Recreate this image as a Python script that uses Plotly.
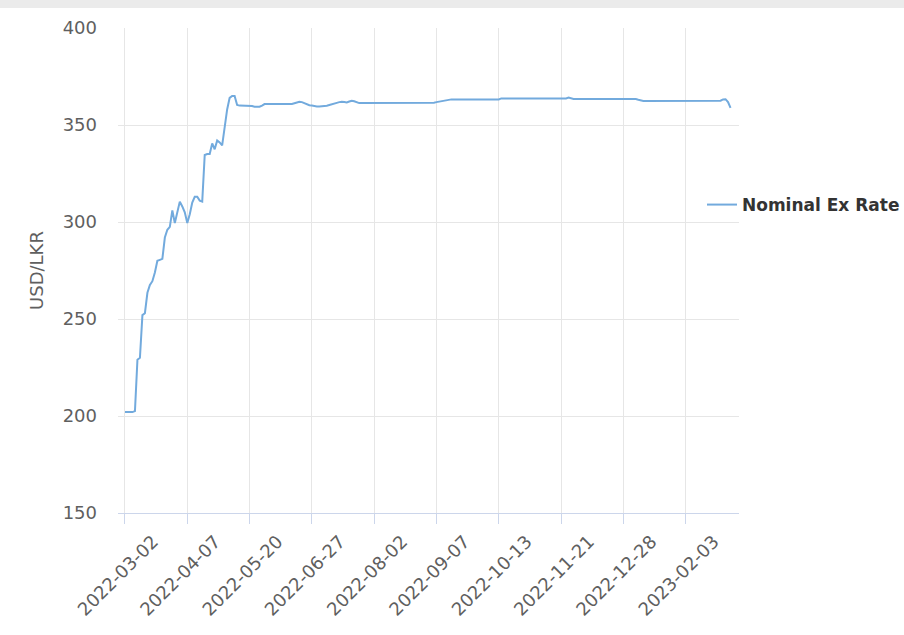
import numpy as np
import pandas as pd
import plotly.graph_objects as go

# Category tick labels (every 25th trading day)
tick_dates = ["2022-03-02", "2022-04-07", "2022-05-20", "2022-06-27", "2022-08-02",
              "2022-09-07", "2022-10-13", "2022-11-21", "2022-12-28", "2023-02-03"]
points_per_tick = 25
tail_points = 19

dates = []
for a, b in zip(tick_dates[:-1], tick_dates[1:]):
    days = pd.bdate_range(a, b, inclusive="left")
    pick = np.linspace(0, len(days) - 1, points_per_tick).round().astype(int)
    dates += [d.strftime("%Y-%m-%d") for d in days[pick]]
dates += [d.strftime("%Y-%m-%d") for d in pd.bdate_range(tick_dates[-1], periods=tail_points)]

# USD/LKR nominal exchange rate
rates = [
    202.0, 202.0, 202.0, 202.0, 202.5, 229.0, 230.0, 252.0, 253.0, 263.5,
    267.5, 269.5, 274.0, 280.0, 280.5, 281.0, 292.0, 296.0, 297.5, 306.0,
    299.5, 305.0, 310.5, 308.0, 305.0, 299.5, 304.0, 310.0, 313.0, 313.0,
    311.0, 310.5, 334.5, 335.0, 335.0, 340.5, 337.5, 342.0, 341.0, 339.5,
    349.0, 358.0, 364.0, 365.0, 365.0, 360.3, 360.0, 360.0, 360.0, 360.0,
    360.0, 359.8, 359.4, 359.3, 359.4, 360.0, 360.8, 360.8, 360.8, 360.8,
    360.8, 360.8, 360.8, 360.8, 360.8, 360.8, 360.8, 360.8, 361.2, 361.7,
    362.0, 361.8, 361.2, 360.6, 360.2, 360.0, 359.7, 359.6, 359.6, 359.6,
    359.7, 359.9, 360.3, 360.8, 361.2, 361.4, 361.8, 362.0, 361.8, 361.6,
    362.1, 362.5, 362.2, 361.6, 361.3, 361.3, 361.3, 361.3, 361.3, 361.3,
    361.5, 361.5, 361.5, 361.5, 361.5, 361.5, 361.5, 361.5, 361.5, 361.5,
    361.5, 361.5, 361.5, 361.5, 361.5, 361.5, 361.5, 361.5, 361.5, 361.5,
    361.5, 361.5, 361.5, 361.5, 361.5, 361.8, 362.1, 362.4, 362.7, 362.9,
    363.0, 363.2, 363.2, 363.2, 363.2, 363.2, 363.2, 363.2, 363.2, 363.2,
    363.2, 363.2, 363.2, 363.2, 363.2, 363.2, 363.2, 363.2, 363.2, 363.2,
    363.2, 363.7, 363.7, 363.7, 363.7, 363.7, 363.7, 363.7, 363.7, 363.7,
    363.7, 363.7, 363.7, 363.7, 363.7, 363.7, 363.7, 363.7, 363.7, 363.7,
    363.7, 363.7, 363.7, 363.7, 363.7, 363.7, 363.7, 363.7, 364.1, 363.6,
    363.4, 363.4, 363.4, 363.4, 363.4, 363.4, 363.4, 363.4, 363.4, 363.4,
    363.4, 363.4, 363.4, 363.4, 363.4, 363.4, 363.4, 363.4, 363.4, 363.4,
    363.4, 363.4, 363.4, 363.4, 363.4, 363.4, 363.0, 362.6, 362.4, 362.4,
    362.4, 362.4, 362.4, 362.4, 362.4, 362.4, 362.4, 362.4, 362.4, 362.4,
    362.4, 362.2, 362.2, 362.2, 362.2, 362.2, 362.2, 362.2, 362.2, 362.2,
    362.2, 362.2, 362.2, 362.2, 362.2, 362.2, 362.2, 362.2, 362.2, 362.5,
    363.2, 363.3, 361.8, 358.8,
]

series_name = "Nominal Ex Rate"
y_title = "USD/LKR"
y_ticks = [150, 200, 250, 300, 350, 400]

FONT = "DejaVu Sans"
AXIS_TEXT = "#5f5f5f"

fig = go.Figure()
fig.add_trace(go.Scatter(
    x=dates, y=rates, mode="lines", name=series_name,
    line=dict(color="#72aadd", width=2),
))

fig.update_layout(
    width=904, height=635,
    margin=dict(l=118, r=165, t=28, b=122, autoexpand=False),
    paper_bgcolor="white", plot_bgcolor="white",
    font=dict(family=FONT, size=18, color=AXIS_TEXT),
    showlegend=True,
    legend=dict(x=0.9404, y=0.635, xanchor="left", yanchor="middle",
                font=dict(family=FONT, size=17, color="#333333", weight="bold"),
                bgcolor="rgba(0,0,0,0)"),
    xaxis=dict(
        type="category", range=[-2.8, 246.4],
        tickmode="array", tickvals=tick_dates, ticktext=tick_dates,
        tickangle=-45, ticks="outside", ticklen=10, tickcolor="#ccd6eb",
        showline=True, linecolor="#ccd6eb", linewidth=1,
        showgrid=True, gridcolor="#e6e6e6", gridwidth=1,
        tickfont=dict(family=FONT, size=18, color=AXIS_TEXT),
        ticklabelshift=28,
        automargin=False,
    ),
    yaxis=dict(
        range=[150, 400], tickmode="array", tickvals=y_ticks,
        showgrid=True, gridcolor="#e6e6e6", gridwidth=1,
        zeroline=False, showline=False,
        tickfont=dict(family=FONT, size=18, color=AXIS_TEXT),
        ticklabelstandoff=20,
        title=dict(text=y_title, font=dict(family=FONT, size=18, color=AXIS_TEXT), standoff=14),
        automargin=False,
    ),
    shapes=[dict(type="rect", xref="paper", yref="paper",
                 x0=-0.2, x1=1.3, y0=1.041, y1=1.06,
                 fillcolor="#ebebeb", line=dict(width=0), layer="below")],
)

fig.write_html("out.html", config={"displayModeBar": False},
               post_script="document.body.style.margin='0';")
